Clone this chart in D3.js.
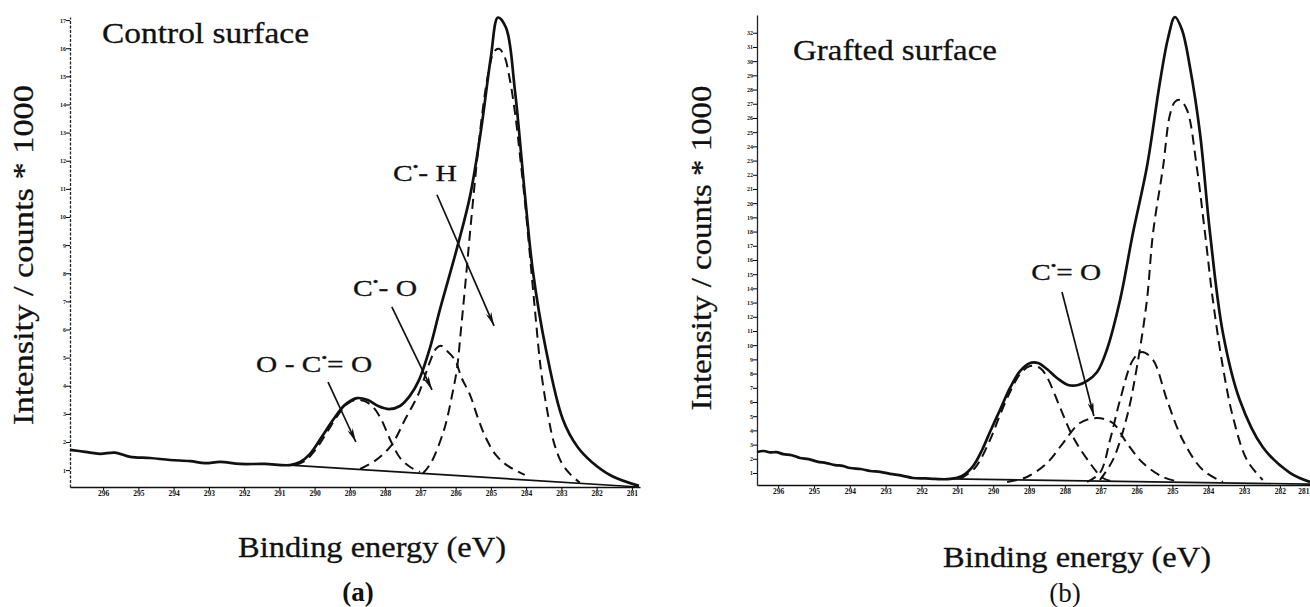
<!DOCTYPE html>
<html>
<head>
<meta charset="utf-8">
<script src="https://cdn.jsdelivr.net/npm/d3@7"></script>
<style>
  body{margin:0;background:#fff}
  svg{display:block}
  text{font-family:"Liberation Serif","Times New Roman",serif;fill:#111}
</style>
</head>
<body>
<svg id="chart" width="1310" height="607"></svg>
<script>
// binding energy ticks (eV) and intensity ticks (counts * 1000)
const energyTicks=[296,295,294,293,292,291,290,289,288,287,286,285,284,283,282,281]
const countTicksA=d3.range(1,18)
const countTicksB=d3.range(1,33)

// (a) control surface   [eV , counts*1000]
const envelopeA=[[296.94,1.72],[296.51,1.65],[296.09,1.58],[295.66,1.62],[295.23,1.47],[294.67,1.43],[294.10,1.36],[293.53,1.32],[293.11,1.25],[292.68,1.29],[292.12,1.22],[291.41,1.22],[290.70,1.18],[290.41,1.29],[290.13,1.58],[289.82,2.14],[289.48,2.78],[289.14,3.32],[288.80,3.56],[288.49,3.49],[288.20,3.28],[287.89,3.17],[287.58,3.28],[287.30,3.64],[287.04,4.20],[286.73,5.34],[286.45,6.69],[285.96,8.90],[285.59,10.75],[285.28,13.09],[285.00,15.69],[284.80,17.09],[284.57,16.73],[284.32,14.52],[284.04,10.86],[283.81,8.09],[283.44,5.30],[282.96,2.81],[282.54,1.82],[282.14,1.29],[281.57,0.79],[280.80,0.44]]
const baselineA=[[290.70,1.18],[287.07,0.89],[280.80,0.40]]
const peakOCOa=[[290.55,1.18],[290.27,1.33],[289.96,1.75],[289.65,2.35],[289.34,2.95],[289.08,3.35],[288.83,3.50],[288.60,3.46],[288.37,3.28],[288.15,2.90],[287.83,2.01],[287.58,1.44],[287.30,1.12],[287.01,0.94]]
const peakCOa=[[288.71,1.04],[288.29,1.33],[287.83,1.87],[287.44,2.79],[287.04,3.75],[286.73,4.85],[286.56,5.31],[286.42,5.42],[286.28,5.28],[286.02,4.92],[285.83,4.28],[285.59,3.67],[285.37,2.86],[285.14,2.14],[284.86,1.54],[284.52,1.15],[284.04,0.83]]
const peakCHa=[[286.93,0.88],[286.70,1.26],[286.33,2.43],[286.10,3.67],[285.96,4.63],[285.85,5.98],[285.74,7.41],[285.59,9.47],[285.42,11.68],[285.25,13.63],[285.08,15.06],[284.91,15.88],[284.77,15.98],[284.63,15.76],[284.46,14.87],[284.29,13.45],[284.18,12.24],[284.04,10.61],[283.92,9.01],[283.75,6.69],[283.58,4.56],[283.38,2.96],[283.21,1.97],[282.99,1.25],[282.73,0.83],[282.48,0.56]]

// (b) grafted surface
const envelopeB=[[296.59,2.48],[296.40,2.55],[296.22,2.45],[296.05,2.47],[295.86,2.33],[295.62,2.25],[295.39,2.06],[295.15,1.98],[294.91,1.80],[294.66,1.70],[294.41,1.56],[294.20,1.50],[293.99,1.35],[293.70,1.28],[293.43,1.14],[293.15,1.08],[292.88,0.94],[292.55,0.82],[292.24,0.65],[291.90,0.62],[291.62,0.58],[291.20,0.58],[290.87,0.79],[290.56,1.49],[290.31,2.62],[290.09,3.89],[289.81,5.44],[289.53,6.99],[289.25,8.18],[288.97,8.75],[288.75,8.75],[288.50,8.32],[288.22,7.69],[287.91,7.20],[287.63,7.20],[287.38,7.48],[287.10,8.11],[286.83,9.66],[286.46,13.18],[286.10,17.90],[285.71,22.56],[285.35,28.48],[285.12,31.63],[284.93,33.11],[284.73,32.20],[284.51,29.59],[284.23,24.94],[283.95,17.90],[283.59,10.86],[283.12,6.14],[282.48,2.83],[281.72,1.01],[281.16,0.37]]
const baselineB=[[291.20,0.58],[281.16,0.22]]
const peakOCOb=[[290.92,0.58],[290.51,1.35],[290.09,3.32],[289.81,5.08],[289.53,6.70],[289.25,7.97],[288.97,8.53],[288.69,8.39],[288.50,7.76],[288.14,5.65],[287.77,3.53],[287.30,1.70],[286.94,0.65],[286.60,0.37]]
const peakCdOb=[[289.61,0.37],[289.06,0.72],[288.50,1.70],[288.05,3.11],[287.58,4.52],[287.10,4.87],[286.66,4.52],[286.27,3.11],[285.82,1.70],[285.26,0.72],[284.79,0.37]]
const peakCOb=[[287.38,0.37],[287.02,1.01],[286.74,3.32],[286.46,6.14],[286.10,8.96],[285.85,9.52],[285.54,8.96],[285.15,6.14],[284.71,3.32],[284.15,1.21],[283.59,0.37]]
const peakCHb=[[287.02,0.51],[286.66,1.92],[286.27,4.94],[285.99,8.46],[285.71,13.18],[285.54,17.90],[285.26,22.56],[285.07,26.21],[284.93,27.13],[284.79,27.27],[284.59,26.56],[284.32,22.56],[284.09,17.90],[283.87,13.18],[283.59,8.46],[283.31,4.94],[282.92,1.92],[282.48,0.51]]

// peak labels: text parts, label anchor and arrow (eV, counts)
const notesA=[
  {parts:['C','•','- H'],at:[287.78,11.28],len:64,from:[286.53,10.79],to:[284.91,6.13]},
  {parts:['C','•','- O'],at:[288.91,7.19],len:64,from:[287.81,6.80],to:[286.67,3.85]},
  {parts:['O - C','•','= O'],at:[291.66,4.49],len:116,from:[289.62,4.13],to:[288.83,2.00]}
]
const notesB=[
  {parts:['C','•','= O'],at:[288.94,14.59],len:70,from:[288.08,13.75],to:[287.19,5.01]}
]

const svg=d3.select('#chart')

svg.append('defs').append('marker')
   .attr('id','head').attr('viewBox','0 0 14 6')
   .attr('refX',14).attr('refY',3)
   .attr('markerWidth',14).attr('markerHeight',6)
   .attr('markerUnits','userSpaceOnUse').attr('orient','auto')
   .append('path').attr('d','M0,0 L14,3 L0,6 L4,3 Z').attr('fill','#111')

function panel(p){
  const x=d3.scaleLinear().domain(p.eV).range(p.xr)
  const y=d3.scaleLinear().domain(p.counts).range(p.yr)
  const g=svg.append('g')
  const line=d3.line().x(d=>x(d[0])).y(d=>y(d[1])).curve(d3.curveCatmullRom.alpha(0.5))

  // axes
  const xa=g.append('g').attr('transform',`translate(0,${p.yr[0]})`)
     .call(d3.axisBottom(x).tickValues(energyTicks).tickSize(3).tickSizeOuter(0).tickPadding(1).tickFormat(d3.format('d')))
  xa.select('.domain').attr('stroke','#111').attr('stroke-width',1.6)
  xa.selectAll('text').attr('font-size','7.5px').attr('font-weight','bold')
  // a label at the very edge is pulled back inside the picture
  xa.selectAll('.tick').filter(d=>x(d)>1300).select('text')
    .attr('text-anchor','end').attr('dx',d=>1309-x(d))

  const ya=g.append('g').attr('transform',`translate(${p.xr[0]},0)`)
     .call(d3.axisLeft(y).tickValues(p.ticks).tickSize(4).tickSizeOuter(0).tickPadding(0))
  ya.select('.domain').attr('stroke','#222').attr('stroke-width',1.3).attr('stroke-dasharray',p.dotted?'3,1.5':null)
  ya.selectAll('text').attr('font-size','6px').attr('font-weight','bold')

  // fitted components
  p.peaks.forEach(pk=>{
    g.append('path').attr('d',line(pk)).attr('fill','none')
     .attr('stroke','#111').attr('stroke-width',2).attr('stroke-dasharray','10,6')
  })
  g.append('path').attr('d',d3.line().x(d=>x(d[0])).y(d=>y(d[1]))(p.base))
   .attr('fill','none').attr('stroke','#111').attr('stroke-width',1.7)
  g.append('path').attr('d',line(p.env)).attr('fill','none')
   .attr('stroke','#111').attr('stroke-width',2.7).attr('stroke-linejoin','round')

  // labels + arrows
  p.notes.forEach(n=>{
    const t=g.append('text').attr('x',x(n.at[0])).attr('y',y(n.at[1]))
       .attr('font-size','24px').attr('textLength',n.len).attr('lengthAdjust','spacingAndGlyphs')
       .attr('stroke','#111').attr('stroke-width',0.3)
    t.append('tspan').text(n.parts[0])
    t.append('tspan').text(n.parts[1]).attr('font-size','13px').attr('dy',-10)
    t.append('tspan').text(n.parts[2]).attr('dy',10)
    g.append('line').attr('x1',x(n.from[0])).attr('y1',y(n.from[1]))
     .attr('x2',x(n.to[0])).attr('y2',y(n.to[1]))
     .attr('stroke','#111').attr('stroke-width',1.7).attr('marker-end','url(#head)')
  })

  g.append('text').attr('x',p.title[1]).attr('y',p.title[2]).attr('font-size','30px')
   .attr('stroke','#111').attr('stroke-width',0.3)
   .attr('textLength',p.title[3]).attr('lengthAdjust','spacingAndGlyphs').text(p.title[0])
  g.append('text').attr('transform',`translate(${p.ylab[0]},${p.ylab[1]}) rotate(-90)`)
   .attr('text-anchor','middle').attr('font-size','30px')
   .attr('stroke','#111').attr('stroke-width',0.3)
   .attr('textLength',p.ylab[2]).attr('lengthAdjust','spacingAndGlyphs')
   .text('Intensity / counts * 1000')
  g.append('text').attr('x',p.xlab[0]).attr('y',p.xlab[1]).attr('text-anchor','middle')
   .attr('stroke','#111').attr('stroke-width',0.3)
   .attr('font-size','30px').attr('textLength',268).attr('lengthAdjust','spacingAndGlyphs')
   .text('Binding energy (eV)')
  g.append('text').attr('x',p.tag[1]).attr('y',p.tag[2]).attr('text-anchor','middle')
   .attr('font-size','27px').attr('font-weight',p.tag[3]).text(p.tag[0])
}

panel({eV:[296.94,280.77],counts:[0.4,17.11],xr:[70,640],yr:[487,17],ticks:countTicksA,dotted:true,
  env:envelopeA,base:baselineA,peaks:[peakOCOa,peakCOa,peakCHa],notes:notesA,
  title:['Control surface',102,43,207],ylab:[33,255,340],xlab:[372,557],tag:['(a)',358,601,'bold']})

panel({eV:[296.59,281.16],counts:[0.155,33.25],xr:[757,1310],yr:[485,15],ticks:countTicksB,dotted:false,
  env:envelopeB,base:baselineB,peaks:[peakOCOb,peakCdOb,peakCOb,peakCHb],notes:notesB,
  title:['Grafted surface',793,60,204],ylab:[711,248,325],xlab:[1077,567],tag:['(b)',1065,602,'normal']})
</script>
</body>
</html>
